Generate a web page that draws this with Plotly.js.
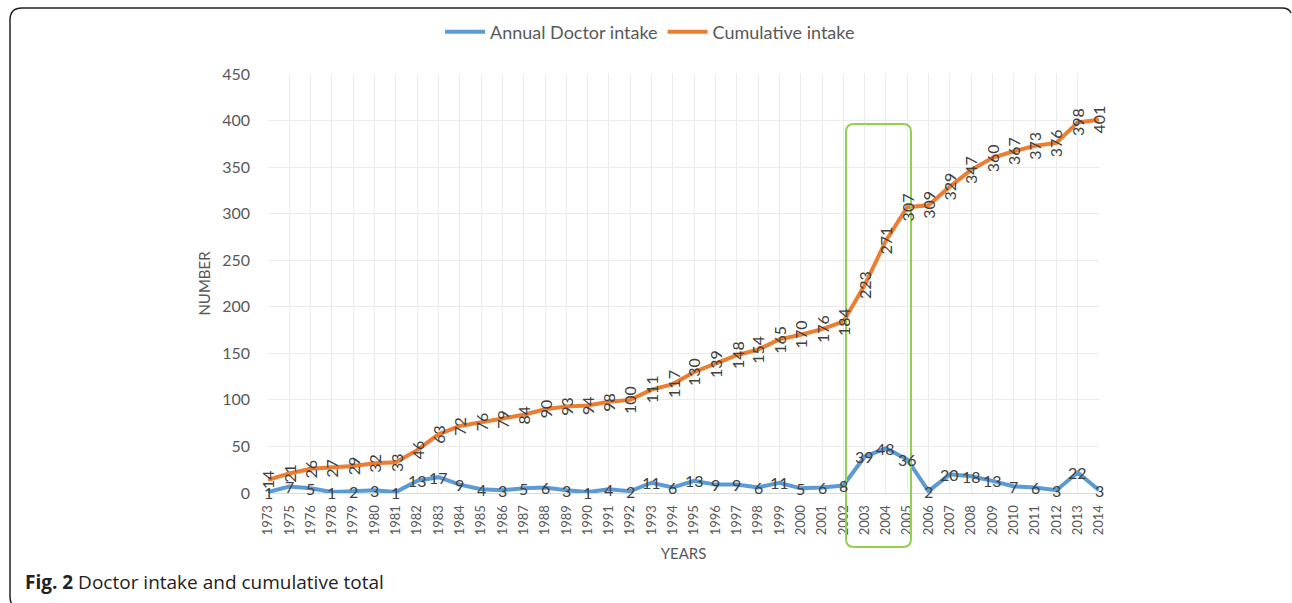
<!DOCTYPE html>
<html>
<head>
<meta charset="utf-8">
<script src="https://cdn.plot.ly/plotly-3.0.1.min.js"></script>
<style>
html,body{margin:0;padding:0;background:#fff;}
#chart{width:1292px;height:603px;}
</style>
</head>
<body>
<div id="chart"></div>
<script>
const years = ["1973","1975","1976","1978","1979","1980","1981","1982","1983","1984","1985","1986","1987","1988","1989","1990","1991","1992","1993","1994","1995","1996","1997","1998","1999","2000","2001","2002","2003","2004","2005","2006","2007","2008","2009","2010","2011","2012","2013","2014"];
const annualIntake = [1,7,5,1,2,3,1,13,17,9,4,3,5,6,3,1,4,2,11,6,13,9,9,6,11,5,6,8,39,48,36,2,20,18,13,7,6,3,22,3];
const cumulativeIntake = [14,21,26,27,29,32,33,46,63,72,76,79,84,90,93,94,98,100,111,117,130,139,148,154,165,170,176,184,223,271,307,309,329,347,360,367,373,376,398,401];
const yTicks = [0,50,100,150,200,250,300,350,400,450];

const W = 1292, H = 603;
const L = 268, R = 1099, T = 74, B = 493;
const px = x => (x - L) / (R - L);
const py = y => (B - y) / (B - T);

function roundRect(x0, y0, x1, y1, r) {
  const p = (x, y) => px(x).toFixed(5) + ',' + py(y).toFixed(5);
  return 'M' + p(x0 + r, y0) + ' L' + p(x1 - r, y0) + ' Q' + p(x1, y0) + ' ' + p(x1, y0 + r) +
    ' L' + p(x1, y1 - r) + ' Q' + p(x1, y1) + ' ' + p(x1 - r, y1) +
    ' L' + p(x0 + r, y1) + ' Q' + p(x0, y1) + ' ' + p(x0, y1 - r) +
    ' L' + p(x0, y0 + r) + ' Q' + p(x0, y0) + ' ' + p(x0 + r, y0) + ' Z';
}
function frame() {
  const p = (x, y) => px(x).toFixed(5) + ',' + py(y).toFixed(5);
  return 'M' + p(10, 596) + ' Q' + p(10, 604) + ' ' + p(14, 606) +
    ' M' + p(10, 596) + ' L' + p(10, 20) + ' Q' + p(10, 8) + ' ' + p(22, 8) +
    ' L' + p(1282, 8) + ' Q' + p(1289, 8) + ' ' + p(1291, 13);
}

const textColor = '#404040';
const annotations = [];
years.forEach((yr, i) => {
  annotations.push({
    x: i, y: cumulativeIntake[i], xref: 'x', yref: 'y',
    text: String(cumulativeIntake[i]), showarrow: false, textangle: -90,
    font: {family: 'Lato, "Open Sans", sans-serif', size: 16, color: textColor},
    xanchor: 'center', yanchor: 'middle'
  });
  annotations.push({
    x: i, y: annualIntake[i], xref: 'x', yref: 'y',
    text: String(annualIntake[i]), showarrow: false,
    font: {family: 'Lato, "Open Sans", sans-serif', size: 16, color: textColor},
    xanchor: 'center', yanchor: 'middle'
  });
});
annotations.push({
  xref: 'paper', yref: 'paper', x: px(23), y: py(582), xanchor: 'left', yanchor: 'middle',
  showarrow: false, align: 'left',
  text: '<b>Fig. 2</b> Doctor intake and cumulative total',
  font: {family: '"Open Sans", sans-serif', size: 19, color: '#222222'}
});

const traces = [
  {
    x: years.map((_, i) => i), y: annualIntake, type: 'scatter', mode: 'lines',
    name: 'Annual Doctor intake',
    line: {color: '#5B9BD5', width: 4}
  },
  {
    x: years.map((_, i) => i), y: cumulativeIntake, type: 'scatter', mode: 'lines',
    name: 'Cumulative intake',
    line: {color: '#ED7D31', width: 4}
  }
];

const layout = {
  width: W, height: H,
  margin: {l: L, r: W - R, t: T, b: H - B, pad: 0},
  paper_bgcolor: '#ffffff', plot_bgcolor: '#ffffff',
  font: {family: 'Lato, "Open Sans", sans-serif', color: '#595959'},
  showlegend: true,
  legend: {
    orientation: 'h', x: px(650), xanchor: 'center', y: py(32), yanchor: 'middle',
    font: {size: 18, color: '#595959'}, itemwidth: 40, traceorder: 'normal'
  },
  xaxis: {
    type: 'linear', range: [0, years.length - 1],
    tickmode: 'array', tickvals: years.map((_, i) => i), ticktext: years,
    tickangle: -90, tickfont: {size: 13, color: '#595959'},
    ticklabelstandoff: 6,
    showgrid: true, gridcolor: '#EBEBEB', gridwidth: 1,
    showline: true, linecolor: '#D9D9D9', linewidth: 1,
    zeroline: false, ticks: '',
    title: {text: 'YEARS', font: {size: 15, color: '#595959'}, standoff: 14}
  },
  yaxis: {
    range: [0, 450], tickmode: 'array', tickvals: yTicks,
    tickfont: {size: 16, color: '#595959'},
    showgrid: true, gridcolor: '#EBEBEB', gridwidth: 1,
    zeroline: false, showline: false, ticks: '',
    ticklabelstandoff: 17,
    title: {text: 'NUMBER', font: {size: 15, color: '#595959'}, standoff: 7}
  },
  shapes: [
    {type: 'path', xref: 'paper', yref: 'paper', path: roundRect(846, 124, 911, 547, 8),
     line: {color: '#92D050', width: 2}, fillcolor: 'rgba(0,0,0,0)', layer: 'above'},
    {type: 'path', xref: 'paper', yref: 'paper', path: frame(),
     line: {color: '#222222', width: 1.5}, fillcolor: 'rgba(0,0,0,0)', layer: 'above'}
  ],
  annotations: annotations
};

Plotly.newPlot('chart', traces, layout, {displayModeBar: false, staticPlot: true});
</script>
</body>
</html>
